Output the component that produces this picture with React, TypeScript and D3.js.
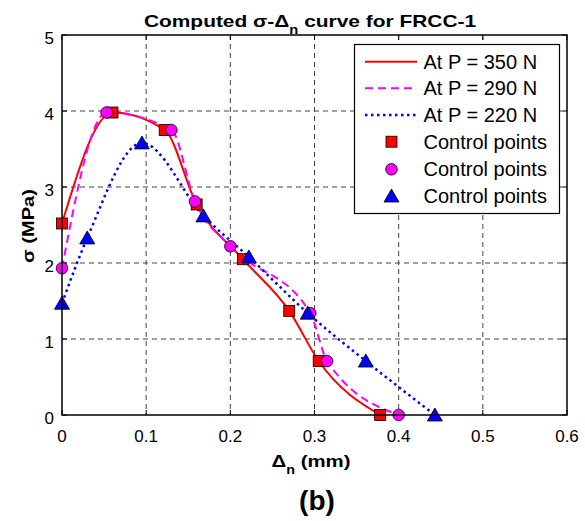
import React from "react";
import * as d3 from "d3";

const xTickVals = [0, 0.1, 0.2, 0.3, 0.4, 0.5, 0.6];
const xTickLabels = ["0", "0.1", "0.2", "0.3", "0.4", "0.5", "0.6"];
const yTickVals = [0, 1, 2, 3, 4, 5];
const yTickLabels = ["0", "1", "2", "3", "4", "5"];

const p350X = [0, 0.06, 0.122, 0.16, 0.215, 0.27, 0.305, 0.378];
const p350Y = [2.52, 3.98, 3.75, 2.77, 2.05, 1.37, 0.71, 0];
const p290X = [0, 0.053, 0.13, 0.158, 0.2, 0.295, 0.315, 0.4];
const p290Y = [1.93, 3.98, 3.75, 2.81, 2.22, 1.34, 0.71, 0];
const p220X = [0, 0.03, 0.095, 0.168, 0.222, 0.292, 0.361, 0.443];
const p220Y = [1.47, 2.33, 3.58, 2.62, 2.08, 1.34, 0.71, 0];

const legendLabels = ["At P = 350 N", "At P = 290 N", "At P = 220 N", "Control points", "Control points", "Control points"];

const W = 585, H = 521;
const L = 62, R = 567, T = 35, B = 415;
const FONT = "'Liberation Sans', Arial, Helvetica, sans-serif";

export default function App() {
  const x = d3.scaleLinear().domain([0, 0.6]).range([L, R]);
  const y = d3.scaleLinear().domain([0, 5]).range([B, T]);
  const line = d3.line<[number, number]>().x(d => x(d[0])).y(d => y(d[1])).curve(d3.curveMonotoneX);
  const pts = (xs: number[], ys: number[]) => xs.map((v, i) => [v, ys[i]] as [number, number]);
  const s350 = pts(p350X, p350Y);
  const s290 = pts(p290X, p290Y);
  const s220 = pts(p220X, p220Y);

  const square = (cx: number, cy: number, k: string) => (
    <rect key={k} x={cx - 5.5} y={cy - 5.5} width={11} height={11} fill="#ff0000" stroke="#000" strokeWidth={0.8} />
  );
  const circle = (cx: number, cy: number, k: string) => (
    <circle key={k} cx={cx} cy={cy} r={5.8} fill="#ff00ff" stroke="#000" strokeWidth={0.8} />
  );
  const tri = (cx: number, cy: number, k: string) => (
    <path key={k} d={`M${cx},${cy - 7}L${cx + 7.5},${cy + 6}L${cx - 7.5},${cy + 6}Z`} fill="#0000ff" stroke="#000" strokeWidth={0.8} />
  );

  const legRows = [61.7, 88.3, 115, 141.7, 169.3, 196];

  return (
    <svg width={W} height={H} style={{ position: "absolute", left: 0, top: 0, background: "#fff" }} fontFamily={FONT}>
      <rect x={0} y={0} width={W} height={H} fill="#fff" />
      <rect x={L} y={T} width={R - L} height={B - T} fill="#fff" />
      {/* grid */}
      {xTickVals.slice(1, -1).map((v, i) => (
        <line key={"gx" + i} x1={x(v)} x2={x(v)} y1={T} y2={B} stroke="#444" strokeWidth={1} strokeDasharray="5,4" />
      ))}
      {yTickVals.slice(1, -1).map((v, i) => (
        <line key={"gy" + i} x1={L} x2={R} y1={y(v)} y2={y(v)} stroke="#444" strokeWidth={1} strokeDasharray="5,4" />
      ))}
      {/* ticks */}
      {xTickVals.map((v, i) => (
        <g key={"tx" + i}>
          <line x1={x(v)} x2={x(v)} y1={B} y2={B - 5} stroke="#000" />
          <line x1={x(v)} x2={x(v)} y1={T} y2={T + 5} stroke="#000" />
          <text x={x(v)} y={442} fontSize={17} textAnchor="middle" fill="#000">{xTickLabels[i]}</text>
        </g>
      ))}
      {yTickVals.map((v, i) => (
        <g key={"ty" + i}>
          <line x1={L} x2={L + 5} y1={y(v)} y2={y(v)} stroke="#000" />
          <line x1={R} x2={R - 5} y1={y(v)} y2={y(v)} stroke="#000" />
          <text x={54} y={y(v) + 8.5} fontSize={17} textAnchor="end" fill="#000">{yTickLabels[i]}</text>
        </g>
      ))}
      {/* curves */}
      <path d={line(s350) || ""} fill="none" stroke="#ff0000" strokeWidth={2} />
      <path d={line(s290) || ""} fill="none" stroke="#ff00ff" strokeWidth={2} strokeDasharray="8,5" />
      <path d={line(s220) || ""} fill="none" stroke="#0000ff" strokeWidth={2.5} strokeDasharray="2.5,3.5" />
      {/* markers */}
      {s350.map((d, i) => square(x(d[0]), y(d[1]), "sq" + i))}
      {s290.map((d, i) => circle(x(d[0]), y(d[1]), "ci" + i))}
      {s220.map((d, i) => tri(x(d[0]), y(d[1]), "tr" + i))}
      {/* axes box */}
      <rect x={L} y={T} width={R - L} height={B - T} fill="none" stroke="#000" strokeWidth={1.5} />
      {/* legend */}
      <rect x={354.5} y={44.5} width={205} height={169} fill="#fff" stroke="#000" strokeWidth={1.2} />
      <line x1={365} x2={417} y1={legRows[0]} y2={legRows[0]} stroke="#ff0000" strokeWidth={2} />
      <line x1={365} x2={417} y1={legRows[1]} y2={legRows[1]} stroke="#ff00ff" strokeWidth={2} strokeDasharray="8,5" />
      <line x1={365} x2={417} y1={legRows[2]} y2={legRows[2]} stroke="#0000ff" strokeWidth={2.5} strokeDasharray="2.5,3.5" />
      {square(391.5, legRows[3], "lsq")}
      {circle(391.5, legRows[4], "lci")}
      {tri(391.5, legRows[5], "ltr")}
      {legendLabels.map((t, i) => (
        <text key={"lt" + i} x={423.5} y={legRows[i] + 7} fontSize={20} fill="#000">{t}</text>
      ))}
      {/* title */}
      <text transform="translate(310,27) scale(1.23,1)" fontSize={17} fontWeight="bold" textAnchor="middle" fill="#000">
        Computed σ-Δ<tspan fontSize={12} dy={7}>n</tspan><tspan dy={-7}> curve for FRCC-1</tspan>
      </text>
      {/* x label */}
      <text transform="translate(311,467) scale(1.2,1)" fontSize={17} fontWeight="bold" textAnchor="middle" fill="#000">
        Δ<tspan fontSize={12} dy={7}>n</tspan><tspan dy={-7}> (mm)</tspan>
      </text>
      {/* y label */}
      <text transform="translate(34,226) rotate(-90) scale(1.18,1)" fontSize={17} fontWeight="bold" textAnchor="middle" fill="#000">
        σ (MPa)
      </text>
      <text x={317} y={510} fontSize={28} fontWeight="bold" textAnchor="middle" fill="#000">(b)</text>
    </svg>
  );
}
